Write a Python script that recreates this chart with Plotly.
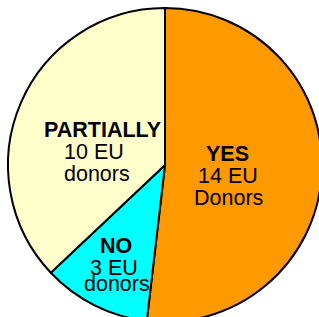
import plotly.graph_objects as go

# ---- data ----
labels = ["YES", "NO", "PARTIALLY"]
values = [14, 3, 10]
unit = "EU"
donor_words = ["Donors", "donors", "donors"]
colors = ["#FF9900", "#00FFFF", "#FFFFCC"]

# ---- layout / style ----
W, H = 330, 330
cx, cy, r = 165, 165, 157
# label anchor positions (pixel centres for each of three lines)
label_xy = [
    [(227, 153.7), (228, 176), (228.5, 197.7)],
    [(116, 246), (114, 267.7), (116.5, 283.5)],
    [(102.5, 129.7), (94, 152), (96.5, 174.4)],
]
FONT = "Liberation Sans, Arial, sans-serif"
FS = 21.5

fig = go.Figure(
    go.Pie(
        labels=labels,
        values=values,
        sort=False,
        direction="clockwise",
        rotation=0,
        marker=dict(colors=colors, line=dict(color="black", width=2)),
        textinfo="none",
        hoverinfo="label+value",
        domain=dict(x=[(cx - r) / W, (cx + r) / W], y=[1 - (cy + r) / H, 1 - (cy - r) / H]),
        showlegend=False,
    )
)

annotations = []
for i, lab in enumerate(labels):
    lines = [f"<b>{lab}</b>", f"{values[i]} {unit}", donor_words[i]]
    for (px, py), txt in zip(label_xy[i], lines):
        annotations.append(
            dict(
                x=px / W, y=1 - py / H, xref="paper", yref="paper",
                text=txt, showarrow=False, xanchor="center", yanchor="middle",
                font=dict(family=FONT, size=FS, color="black"),
            )
        )

fig.update_layout(
    width=W, height=H,
    margin=dict(l=0, r=0, t=0, b=0),
    paper_bgcolor="white", plot_bgcolor="white",
    annotations=annotations,
)

fig.write_html(
    "out.html",
    config={"displayModeBar": False},
    post_script="document.documentElement.style.overflow='hidden';document.body.style.overflow='hidden';document.body.style.margin='0';",
)
